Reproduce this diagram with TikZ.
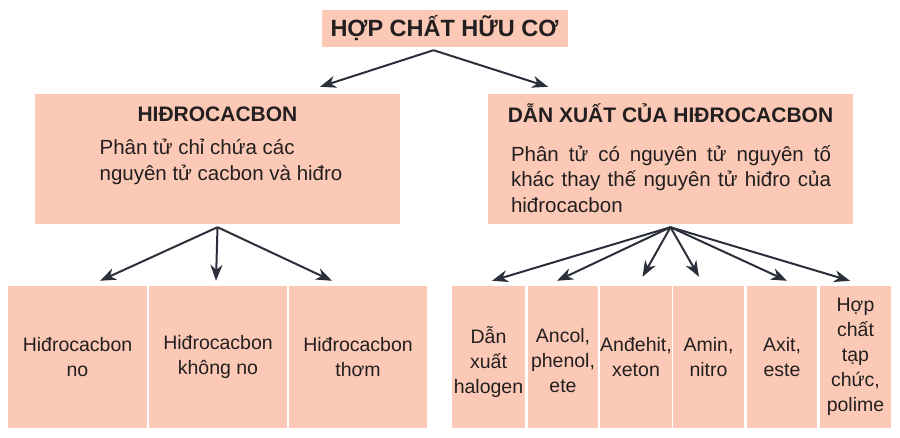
\documentclass[tikz,border=0pt]{standalone}
\usepackage{fontspec}
\setmainfont{Liberation Sans}
\usetikzlibrary{arrows.meta}

\definecolor{boxfill}{RGB}{251,201,181}
\definecolor{arrowcol}{RGB}{43,47,58}
\definecolor{txtcol}{RGB}{35,31,32}

\begin{document}
\begin{tikzpicture}[x=1pt,y=-1pt,
    box/.style={fill=boxfill, inner sep=0pt, text=txtcol},
    midbox/.style={box, minimum width=365pt, minimum height=130pt},
    leaf/.style={box, minimum height=142pt, align=center,
        font=\fontsize{19.5}{25}\selectfont},
    heading/.style={text=txtcol, inner sep=0pt, font=\fontsize{21}{25}\selectfont\bfseries},
    body/.style={text=txtcol, inner sep=0pt, font=\fontsize{20.5}{25.5}\selectfont},
    arr/.style={draw=arrowcol, line width=2pt,
        -{Stealth[length=16pt,width=12pt,inset=5pt]}}]
\useasboundingbox (0,0) rectangle (900,437);

% Top level
\node[box, minimum width=246pt, minimum height=37pt,
    font=\fontsize{23.5}{28}\selectfont\bfseries] (hcuc) at (444.5,28.5) {HỢP CHẤT HỮU CƠ};

% Second level
\node[midbox] (hc) at (217.5,159) {};
\node[heading] (hct) at (217.5,114) {HIĐROCACBON};
\node[body, align=left] (hcb) at (221,162) {Phân tử chỉ chứa các\\nguyên tử cacbon và hiđro};

\node[midbox] (dx) at (670.5,159) {};
\node[heading] (dxt) at (670.5,113) {DẪN XUẤT CỦA HIĐROCACBON};
\node[body, text width=320pt, align=justify] (dxb) at (671,179)
    {Phân tử có nguyên tử nguyên tố\linebreak khác thay thế nguyên tử hiđro của\linebreak hiđrocacbon};

% Hidrocacbon groups
\node[leaf, minimum width=139pt] (hno) at (77.5,357) {Hiđrocacbon\\no};
\node[leaf, minimum width=138pt] (hkno) at (218,357) {Hiđrocacbon\\không no};
\node[leaf, minimum width=138pt] (hthom) at (358,357) {Hiđrocacbon\\thơm};

% Derivative groups
\node[leaf, minimum width=73pt] (dhal) at (488.5,357) {\rule{0pt}{28pt}Dẫn\\xuất\\halogen};
\node[leaf, minimum width=70pt] (dancol) at (563,357) {\rule{0pt}{22pt}Ancol,\\phenol,\\ete};
\node[leaf, minimum width=70pt] (dandeh) at (636,357) {Anđehit,\\xeton};
\node[leaf, minimum width=71pt] (damin) at (708.5,357) {Amin,\\nitro};
\node[leaf, minimum width=70pt] (daxit) at (782,357) {Axit,\\este};
\node[leaf, minimum width=71pt] (dtap) at (855.5,357) {Hợp\\chất\\tạp\\chức,\\polime};

% Arrows
\draw[arr] ([xshift=-11pt,yshift=-3pt]hcuc.south) -- ([xshift=102.5pt,yshift=7pt]hc.north);
\draw[arr] ([xshift=-11pt,yshift=-3pt]hcuc.south) -- ([xshift=-122.5pt,yshift=7pt]dx.north);

\draw[arr] ([yshift=-3pt]hc.south) -- ([xshift=22.5pt,yshift=5pt]hno.north);
\draw[arr] ([yshift=-3pt]hc.south) -- ([xshift=-2pt,yshift=5pt]hkno.north);
\draw[arr] ([yshift=-3pt]hc.south) -- ([xshift=-26pt,yshift=5pt]hthom.north);

\draw[arr] ([yshift=-3pt]dx.south) -- ([xshift=3.5pt,yshift=5pt]dhal.north);
\draw[arr] ([yshift=-3pt]dx.south) -- ([xshift=-6pt,yshift=5pt]dancol.north);
\draw[arr] ([yshift=-3pt]dx.south) -- ([xshift=6.5pt,yshift=9pt]dandeh.north);
\draw[arr] ([yshift=-3pt]dx.south) -- ([xshift=-9.5pt,yshift=9pt]damin.north);
\draw[arr] ([yshift=-3pt]dx.south) -- ([xshift=5pt,yshift=5pt]daxit.north);
\draw[arr] ([yshift=-3pt]dx.south) -- ([xshift=-5.5pt,yshift=5pt]dtap.north);
\end{tikzpicture}
\end{document}
